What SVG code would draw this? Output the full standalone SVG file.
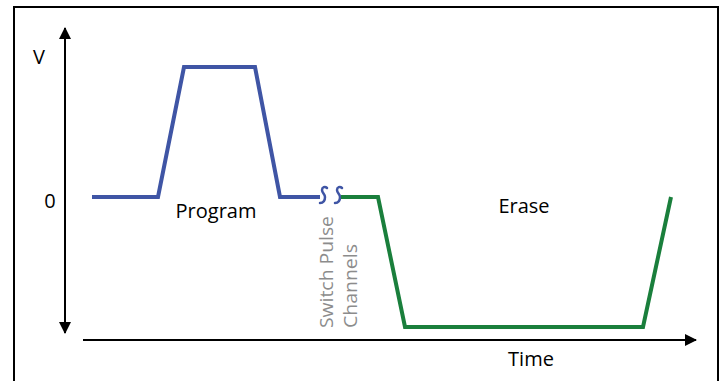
<svg xmlns="http://www.w3.org/2000/svg" width="723" height="381" viewBox="0 0 723 381">
<style>
.t{font-family:"Open Sans","Liberation Sans",sans-serif;font-size:20px;fill:#000}
.g{font-family:"Open Sans","Liberation Sans",sans-serif;font-size:19px;fill:#8c8c8c}
.ax{stroke:#000;stroke-width:2;fill:none}
.blue{stroke:#3f55a5;stroke-width:4;fill:none;stroke-linejoin:miter}
.green{stroke:#1a7f3c;stroke-width:4;fill:none;stroke-linejoin:miter}
.brk{stroke:#3f55a5;stroke-width:2.5;fill:none;stroke-linecap:round}
</style>
<defs>
<marker id="ah" viewBox="0 0 12 12" refX="11" refY="6" markerWidth="12" markerHeight="12" markerUnits="userSpaceOnUse" orient="auto-start-reverse">
<path d="M0,0 L12,6 L0,12 z" fill="#000"/>
</marker>
</defs>
<rect x="14" y="7" width="704" height="380" fill="#fff" stroke="#000" stroke-width="2"/>
<g id="connectors">
<line class="ax" x1="65" y1="28" x2="65" y2="333" marker-start="url(#ah)" marker-end="url(#ah)"/>
<line class="ax" x1="83" y1="340" x2="696" y2="340" marker-end="url(#ah)"/>
</g>
<g id="program-pulse">
<polyline class="blue" points="92,197 158,197 184,67 255,67 280,197 320,197"/>
<path class="brk" d="M327,188 C325,186 322,187 322,190 C322,193 325,194 325,197 C325,201 323,203 320,203"/>
</g>
<g id="erase-pulse">
<path class="brk" d="M342,188 C340,186 337,187 337,190 C337,193 340,194 340,197 C340,201 338,203 335,203"/>
<polyline class="green" points="341,197 378,197 405,327 643,327 671,197"/>
</g>
<g id="labels">
<text class="t" x="39" y="64" font-size="26" text-anchor="middle">V</text>
<text class="t" x="50" y="208" font-size="21" text-anchor="middle">0</text>
<text class="t" x="216" y="218" text-anchor="middle">Program</text>
<text class="t" x="524" y="213" text-anchor="middle">Erase</text>
<text class="t" x="531" y="366" text-anchor="middle">Time</text>
<text class="g" transform="translate(333,328) rotate(-90)" textLength="112" lengthAdjust="spacingAndGlyphs">Switch Pulse</text>
<text class="g" transform="translate(357,328) rotate(-90)" textLength="84" lengthAdjust="spacingAndGlyphs">Channels</text>
</g>
</svg>
